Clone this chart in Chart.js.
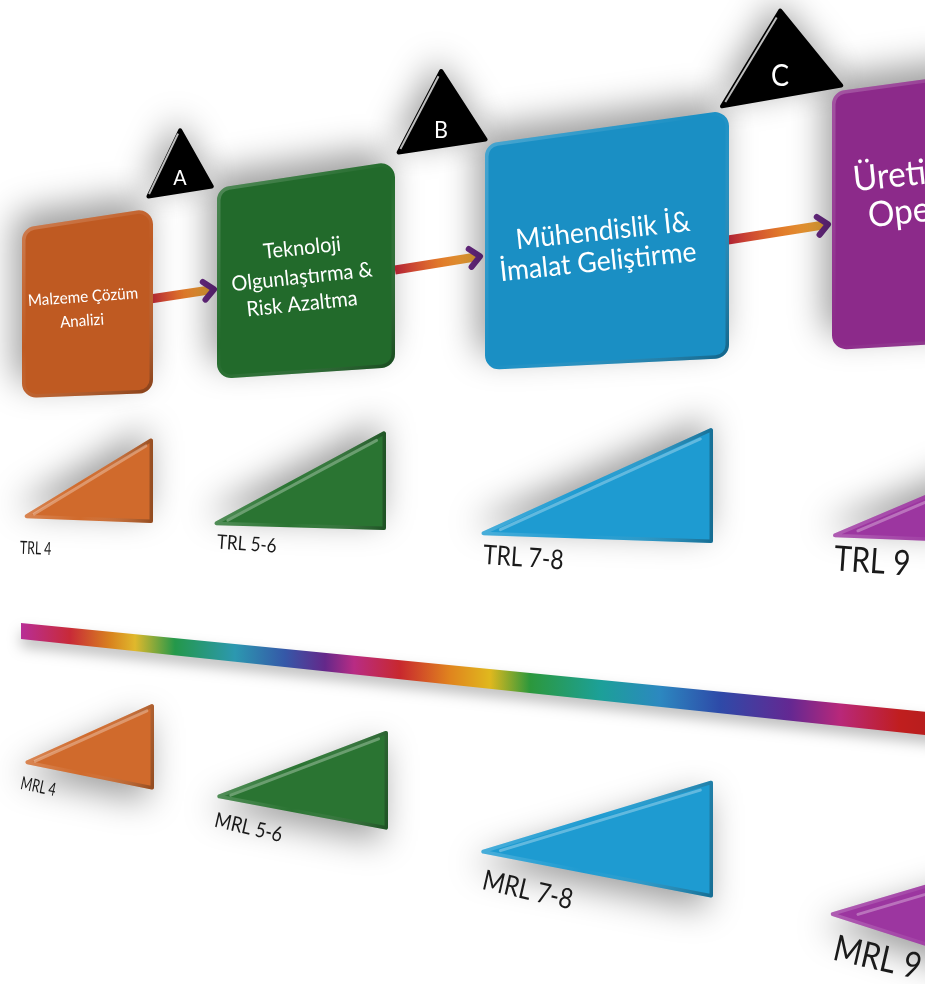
<!DOCTYPE html>
<html>
<head>
<meta charset="utf-8">
<script src="https://cdn.jsdelivr.net/npm/chart.js@4.4.0/dist/chart.umd.min.js"></script>
<style>
body{margin:0;background:#fff;overflow:hidden}
canvas{display:block}
</style>
</head>
<body>
<canvas id="c" width="925" height="984"></canvas>
<script>
// texts of the diagram
var stageLines = [
  ['Malzeme Çözüm', 'Analizi'],
  ['Teknoloji', 'Olgunlaştırma &', 'Risk Azaltma'],
  ['Mühendislik İ&', 'İmalat Geliştirme'],
  ['Üretim &', 'Operasyon']
];
var gateLabels = ['A', 'B', 'C'];
var trlLabels = ['TRL 4', 'TRL 5-6', 'TRL 7-8', 'TRL 9'];
var mrlLabels = ['MRL 4', 'MRL 5-6', 'MRL 7-8', 'MRL 9'];

// corners (x to the right, y downwards)
var boxCorners = [
  [[22,228],[153,208],[153,393],[22,398]],
  [[217,188],[395,161],[395,367],[217,379]],
  [[485,144],[729,110],[729,358],[485,370]],
  [[832,92],[1100,55],[1100,335],[832,350]]
];
var gateCorners = [
  [[180,126],[215,188],[145,199]],
  [[441,67],[489,141],[395,155]],
  [[780,7],[845,87],[718,109]]
];
var trlCorners = [
  [[20,518],[153,437],[153,523]],
  [[209,525],[386,430],[386,530]],
  [[475,535],[713,427],[713,543]],
  [[826,537],[1126,410],[1126,548]]
];
var mrlCorners = [
  [[21,763],[154,703],[154,790]],
  [[212,797],[388,730],[388,830]],
  [[475,852],[713,780],[713,898]],
  [[826,914],[1126,825],[1126,1010]]
];
var arrowEnds = [
  [[150,299],[216,289]],
  [[395,270],[482,256]],
  [[728,240],[830,224]]
];
var bandCorners = [[21,623],[1000,719],[1000,743],[21,639]];

var stageAnchors = [
  [[83,297],[82,321]],
  [[302,248],[302,277],[302,304]],
  [[603,231],[598,262]],
  [[853,180],[868,216]]
];
var gateAnchors = [[180,178],[441,130],[780,76]];
var trlAnchors = [[20,548],[217,542],[483,555],[834,559]];
var mrlAnchors = [[21,783],[215,820],[483,880],[834,948]];

var stageColors = ['#bf5a22', '#226a2b', '#1a8fc4', '#8c2a8a'];
var triColors = ['#d06a2c', '#2a7432', '#1e9bd1', '#9c36a0'];

function pt(p){ return {x:p[0], y:p[1]}; }

var datasets = [];
datasets.push({kind:'band', data: bandCorners.map(pt)});
trlCorners.forEach(function(c,i){ datasets.push({kind:'trl', color:triColors[i], data:c.map(pt)}); });
mrlCorners.forEach(function(c,i){ datasets.push({kind:'mrl', color:triColors[i], data:c.map(pt)}); });
arrowEnds.forEach(function(c){ datasets.push({kind:'arrow', data:c.map(pt)}); });
gateCorners.forEach(function(c){ datasets.push({kind:'gate', data:c.map(pt)}); });
boxCorners.forEach(function(c,i){ datasets.push({kind:'box', color:stageColors[i], data:c.map(pt)}); });

var boxSizes = [16, 21, 28, 35];
stageLines.forEach(function(lines,i){
  lines.forEach(function(t,j){
    datasets.push({kind:'text', text:t, size:boxSizes[i], angle:(i==0?-4:-6), color:'#fff',
      align:(i==3?'left':'center'), sx:0.95, data:[pt(stageAnchors[i][j])]});
  });
});
var gateSizes = [22, 24, 30];
gateLabels.forEach(function(t,i){
  datasets.push({kind:'text', text:t, size:gateSizes[i], angle:0, color:'#fff', align:'center', sx:0.9, data:[pt(gateAnchors[i])]});
});
var trlSizes = [18, 20, 27, 35];
var mrlSizes = [18, 21, 28, 36];
trlLabels.forEach(function(t,i){
  datasets.push({kind:'text', text:t, size:trlSizes[i], angle:(i==0?2:4), color:'#1a1a1a', align:'left',
    sx:(i==0?0.68:0.85), data:[pt(trlAnchors[i])]});
});
mrlLabels.forEach(function(t,i){
  datasets.push({kind:'text', text:t, size:mrlSizes[i], angle:(i==0?12:13), color:'#1a1a1a', align:'left',
    sx:(i==0?0.68:0.85), data:[pt(mrlAnchors[i])]});
});

function roundPoly(ctx, p, r){
  var n = p.length;
  ctx.beginPath();
  ctx.moveTo((p[n-1].x+p[0].x)/2, (p[n-1].y+p[0].y)/2);
  for(var k=0;k<n;k++){
    var a=p[k], b=p[(k+1)%n];
    ctx.arcTo(a.x, a.y, (a.x+b.x)/2, (a.y+b.y)/2, r);
  }
  ctx.closePath();
}
function lerp(a,b,t){ return {x:a.x+(b.x-a.x)*t, y:a.y+(b.y-a.y)*t}; }

function shadowOn(ctx, dx, dy){
  ctx.shadowColor='rgba(0,0,0,0.38)'; ctx.shadowBlur=34; ctx.shadowOffsetX=dx; ctx.shadowOffsetY=dy;
}

function drawBand(ctx, p){
  ctx.save();
  ctx.shadowColor='rgba(0,0,0,0.25)'; ctx.shadowBlur=14; ctx.shadowOffsetY=8;
  var g = ctx.createLinearGradient(21,0,925,0);
  var stops = [[21,'#b82e96'],[70,'#c82a38'],[110,'#d8821e'],[135,'#e0b82c'],[175,'#24984a'],[235,'#2c98b0'],
    [285,'#3558a8'],[325,'#64288a'],[354,'#b82c84'],[400,'#c8282e'],[450,'#e0841e'],[490,'#e0b81e'],
    [530,'#2c983c'],[600,'#1ca098'],[660,'#2c88c0'],[720,'#2e4aa8'],[790,'#642892'],[840,'#b8287a'],[900,'#c01e1e'],[925,'#b81e1e']];
  stops.forEach(function(s){ g.addColorStop((s[0]-21)/904, s[1]); });
  ctx.beginPath();
  p.forEach(function(q,i){ if(i) ctx.lineTo(q.x,q.y); else ctx.moveTo(q.x,q.y); });
  ctx.closePath();
  ctx.fillStyle=g; ctx.fill();
  ctx.restore();
}

function bevel(ctx, p, r, a, b, w){
  ctx.save();
  roundPoly(ctx, p, r); ctx.clip();
  var g = ctx.createLinearGradient(a.x, a.y, b.x, b.y);
  g.addColorStop(0,'rgba(255,255,255,0.2)');
  g.addColorStop(0.45,'rgba(255,255,255,0)');
  g.addColorStop(1,'rgba(0,0,0,0.3)');
  roundPoly(ctx, p, r);
  ctx.lineWidth=w; ctx.strokeStyle=g; ctx.stroke();
  ctx.restore();
}

function drawBox(ctx, p, ds){
  ctx.save();
  shadowOn(ctx, -8, -14);
  roundPoly(ctx, p, 14);
  ctx.fillStyle=ds.color; ctx.fill();
  ctx.restore();
  bevel(ctx, p, 14, p[0], p[2], 7);
}

function drawTri(ctx, p, ds, up){
  ctx.save();
  shadowOn(ctx, -6, up ? -10 : 12);
  roundPoly(ctx, p, 2);
  ctx.fillStyle=ds.color; ctx.fill();
  ctx.restore();
  bevel(ctx, p, 2, p[0], p[2], 7);
  // light ridge along the long edge
  var c = {x:(p[0].x+p[1].x+p[2].x)/3, y:(p[0].y+p[1].y+p[2].y)/3};
  var a = lerp(p[0], c, 0.16), b = lerp(p[1], c, 0.16);
  ctx.save();
  ctx.strokeStyle='rgba(255,255,255,0.3)'; ctx.lineWidth=3; ctx.lineCap='round';
  ctx.beginPath(); ctx.moveTo(a.x,a.y); ctx.lineTo(b.x,b.y); ctx.stroke();
  ctx.restore();
}

function drawGate(ctx, p){
  ctx.save();
  shadowOn(ctx, -4, -8);
  roundPoly(ctx, p, 2);
  ctx.fillStyle='#000'; ctx.fill();
  ctx.restore();
  var a = lerp(p[2], p[0], 0.04), b = lerp(p[0], p[2], 0.06);
  var c = {x:(p[0].x+p[1].x+p[2].x)/3, y:(p[0].y+p[1].y+p[2].y)/3};
  a = lerp(a, c, 0.08); b = lerp(b, c, 0.08);
  ctx.save();
  ctx.strokeStyle='rgba(255,255,255,0.75)'; ctx.lineWidth=2;
  ctx.beginPath(); ctx.moveTo(a.x,a.y); ctx.lineTo(b.x,b.y); ctx.stroke();
  ctx.restore();
}

function drawArrow(ctx, p){
  var s=p[0], e=p[1];
  var len=Math.hypot(e.x-s.x, e.y-s.y), dx=(e.x-s.x)/len, dy=(e.y-s.y)/len;
  ctx.save();
  var g = ctx.createLinearGradient(s.x,s.y,e.x,e.y);
  g.addColorStop(0,'#c5283a'); g.addColorStop(0.5,'#e0782a'); g.addColorStop(1,'#f0b23a');
  ctx.strokeStyle=g; ctx.lineWidth=9;
  ctx.beginPath(); ctx.moveTo(s.x,s.y); ctx.lineTo(e.x-dx*4,e.y-dy*4); ctx.stroke();
  ctx.strokeStyle='#6b2a86'; ctx.lineWidth=6; ctx.lineCap='round'; ctx.lineJoin='round';
  var tip={x:e.x-dx*2, y:e.y-dy*2};
  ctx.beginPath();
  ctx.moveTo(tip.x-dx*10-dy*9, tip.y-dy*10+dx*9);
  ctx.lineTo(tip.x, tip.y);
  ctx.lineTo(tip.x-dx*10+dy*9, tip.y-dy*10-dx*9);
  ctx.stroke();
  ctx.restore();
}

function drawText(ctx, p, ds){
  ctx.save();
  ctx.translate(p[0].x, p[0].y);
  ctx.rotate(ds.angle*Math.PI/180);
  ctx.scale(ds.sx, 1);
  ctx.font = ds.size + 'px Lato, "Open Sans", sans-serif';
  ctx.fillStyle = ds.color;
  ctx.textAlign = ds.align;
  ctx.textBaseline = 'middle';
  ctx.fillText(ds.text, 0, 0);
  ctx.restore();
}

var shapePlugin = {
  id: 'shapes',
  afterDatasetsDraw: function(chart){
    var ctx = chart.ctx;
    chart.data.datasets.forEach(function(ds, i){
      var p = chart.getDatasetMeta(i).data.map(function(el){ return {x:el.x, y:el.y}; });
      if(ds.kind=='band') drawBand(ctx, p);
      else if(ds.kind=='trl') drawTri(ctx, p, ds, true);
      else if(ds.kind=='mrl') drawTri(ctx, p, ds, false);
      else if(ds.kind=='arrow') drawArrow(ctx, p);
      else if(ds.kind=='gate') drawGate(ctx, p);
      else if(ds.kind=='box') drawBox(ctx, p, ds);
      else if(ds.kind=='text') drawText(ctx, p, ds);
    });
  }
};

new Chart(document.getElementById('c'), {
  type: 'scatter',
  data: { datasets: datasets },
  options: {
    responsive: false,
    animation: false,
    events: [],
    layout: { padding: 0 },
    elements: { point: { radius: 0, hoverRadius: 0 } },
    plugins: { legend: { display: false }, tooltip: { enabled: false } },
    scales: {
      x: { type: 'linear', min: 0, max: 925, display: false },
      y: { type: 'linear', min: 0, max: 984, reverse: true, display: false }
    }
  },
  plugins: [shapePlugin]
});
</script>
</body>
</html>
